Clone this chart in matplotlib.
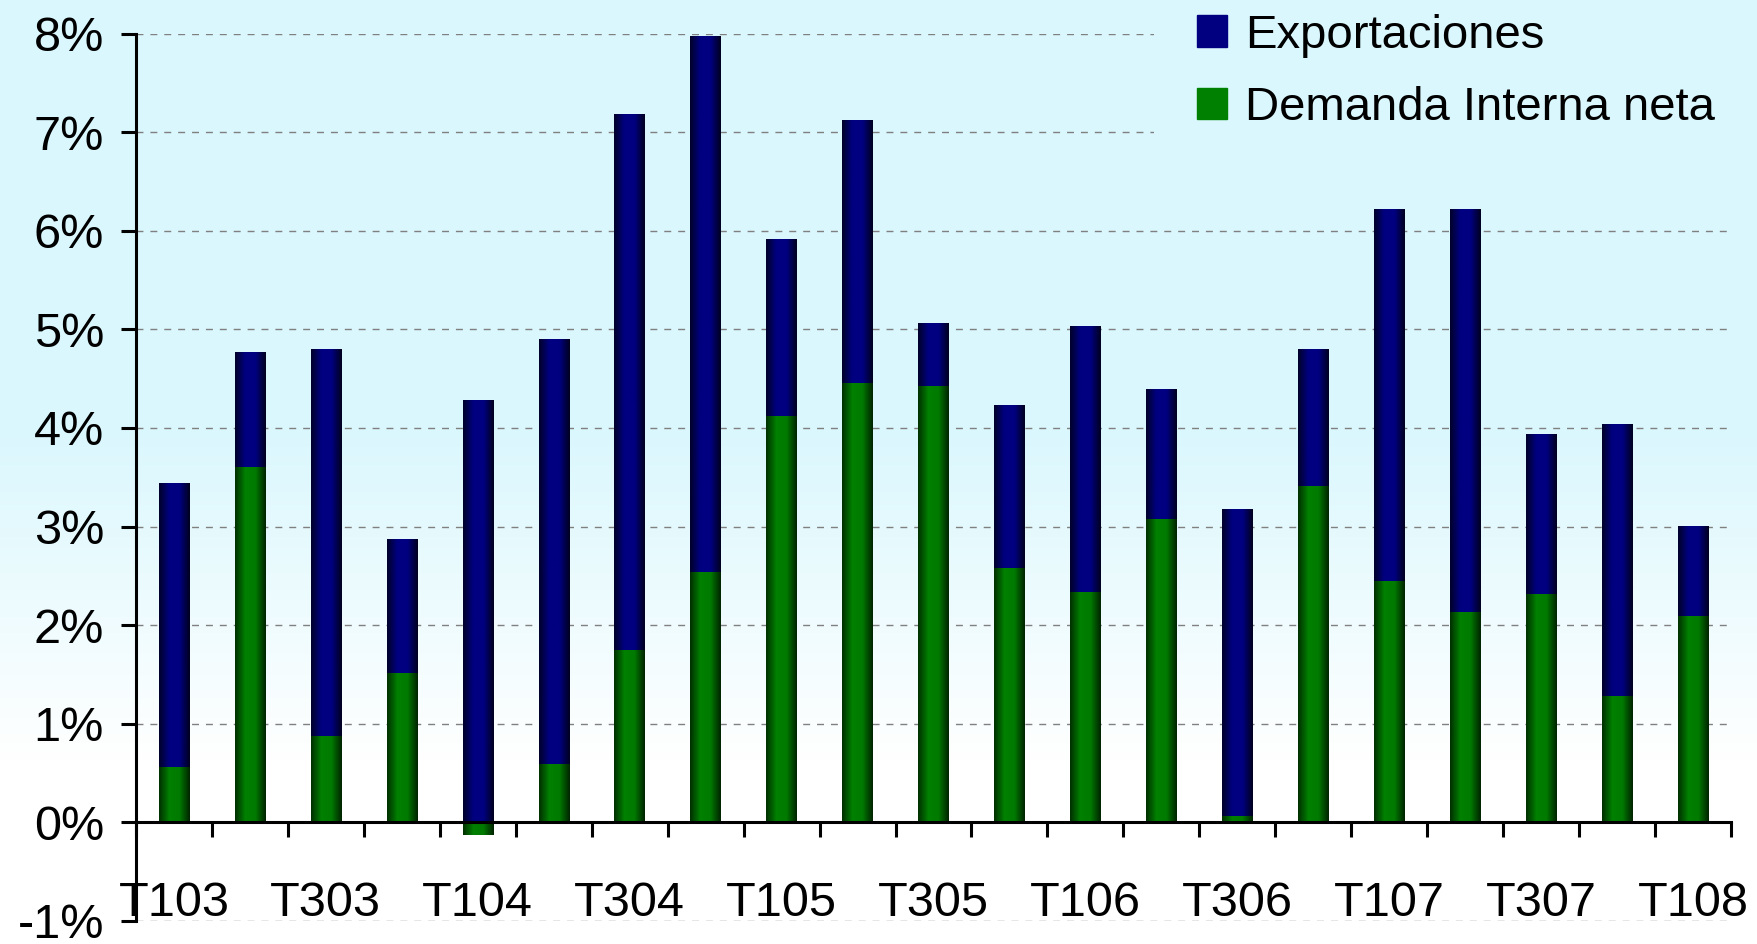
import numpy as np
import matplotlib
matplotlib.use('Agg')
import matplotlib.pyplot as plt
from matplotlib.colors import LinearSegmentedColormap
from matplotlib.patches import Patch

plt.rcParams['font.family'] = ['Liberation Sans', 'DejaVu Sans']

# Data (contribucion al crecimiento, %)
quarters = ['T103', 'T203', 'T303', 'T403',
            'T104', 'T204', 'T304', 'T404',
            'T105', 'T205', 'T305', 'T405',
            'T106', 'T206', 'T306', 'T406',
            'T107', 'T207', 'T307', 'T407',
            'T108']
demanda = [0.56, 3.60, 0.88, 1.51, -0.13, 0.59, 1.75, 2.54, 4.12, 4.46, 4.43,
           2.58, 2.34, 3.08, 0.06, 3.41, 2.45, 2.13, 2.32, 1.28, 2.09]
exportaciones = [2.88, 1.17, 3.92, 1.36, 4.28, 4.31, 5.43, 5.44, 1.80, 2.66, 0.63,
                 1.65, 2.69, 1.32, 3.12, 1.39, 3.77, 4.09, 1.62, 2.76, 0.92]
yticks = [-1, 0, 1, 2, 3, 4, 5, 6, 7, 8]

navy = '#000080'
green = '#008000'
bg_top = '#d9f7fd'

blue_cmap = LinearSegmentedColormap.from_list('b', ['#00002a', '#000080', '#000080', '#000020'])
green_cmap = LinearSegmentedColormap.from_list('g', ['#003000', '#008000', '#007a00', '#002400'])


def shade(ax, bars, cmap):
    # horizontal gradient inside each bar, clipped to the bar patch
    grad = np.linspace(0, 1, 64).reshape(1, -1)
    for p in bars:
        x0, y0 = p.get_x(), p.get_y()
        w, h = p.get_width(), p.get_height()
        im = ax.imshow(grad, cmap=cmap, extent=(x0, x0 + w, y0, y0 + h),
                       aspect='auto', interpolation='bilinear', zorder=2.5)
        im.set_clip_path(p)


fig = plt.figure(figsize=(17.57, 9.44), dpi=100)

# background gradient (cyan on top, white at the bottom)
bg = fig.add_axes([0, 0, 1, 1], zorder=-1)
h = 944
t = np.clip((np.arange(h) - 420) / 340.0, 0, 1).reshape(-1, 1)
top = np.array(matplotlib.colors.to_rgb(bg_top))
img = top * (1 - t[:, :, None]) + np.ones(3) * t[:, :, None]
bg.imshow(img, aspect='auto', extent=(0, 1, 0, 1))
bg.axis('off')

ax = fig.add_axes([0.0774, 0.0244, 0.9078, 0.94])
ax.set_facecolor('none')

x = np.arange(len(quarters))
bottom_exp = np.clip(demanda, 0, None)
b1 = ax.bar(x, demanda, width=0.4, color=green, zorder=2)
b2 = ax.bar(x, exportaciones, bottom=bottom_exp, width=0.4, color=navy, zorder=2)
shade(ax, b1, green_cmap)
shade(ax, b2, blue_cmap)

ax.set_xlim(-0.5, len(quarters) - 0.5)
ax.set_ylim(-1, 8)

ax.spines['top'].set_visible(False)
ax.spines['right'].set_visible(False)
ax.spines['bottom'].set_position(('data', 0))
ax.spines['left'].set_linewidth(2.2)
ax.spines['bottom'].set_linewidth(2.2)
ax.spines['bottom'].set_zorder(3)

ax.set_yticks(yticks)
ax.set_yticklabels([f'{v}%' for v in yticks], fontsize=35)
ax.tick_params(axis='y', length=11, width=2.2, pad=12)
ax.yaxis.grid(True, linestyle=(0, (5, 5)), color='#808080', linewidth=1.0)
ax.set_axisbelow(True)

ax.set_xticks(x[::2])
ax.set_xticklabels(quarters[::2], fontsize=35)
ax.set_xticks(np.arange(-0.5, len(quarters)), minor=True)
ax.tick_params(axis='x', which='major', length=0, pad=42)
ax.tick_params(axis='x', which='minor', length=11, width=2.2)

handles = [Patch(color=navy), Patch(color=green)]
leg = ax.legend(handles, ['Exportaciones', 'Demanda Interna neta'],
                loc='upper left', bbox_to_anchor=(1154 / 1757, 1 + 29 / 944),
                bbox_transform=fig.transFigure, fontsize=34, frameon=True,
                facecolor=bg_top, edgecolor='none', framealpha=1, fancybox=False,
                handlelength=0.64, handleheight=0.64, handletextpad=0.38,
                labelspacing=0.61, borderpad=0.9, borderaxespad=0)
leg.set_zorder(5)

fig.savefig('out.png', dpi=100)
